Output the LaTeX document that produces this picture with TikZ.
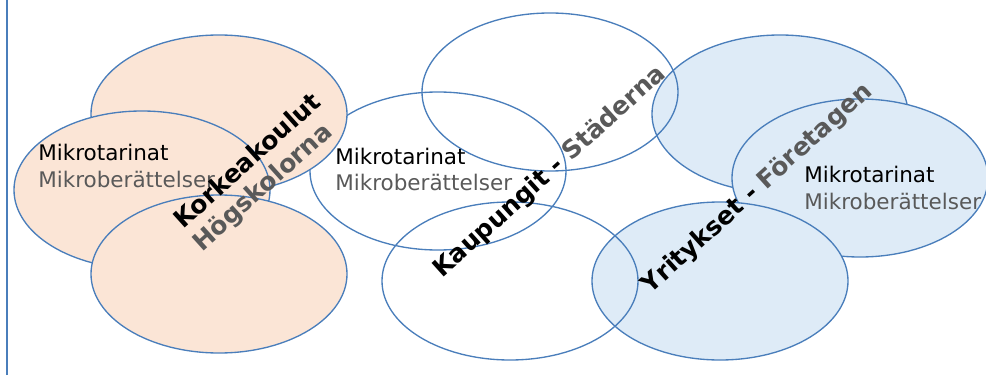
\documentclass[tikz,border=0pt]{standalone}
\usepackage{fontspec}
\setmainfont{DejaVu Sans}
\usepackage{tikz}
\usetikzlibrary{calc}
\definecolor{rimblue}{RGB}{74,126,187}
\definecolor{peach}{RGB}{251,229,214}
\definecolor{paleblue}{RGB}{222,235,247}
\definecolor{textgray}{RGB}{89,89,89}

\begin{document}
\begin{tikzpicture}
\useasboundingbox (0,0) rectangle (24.65,9.375);
\coordinate (uniTop) at (5.475,6.525);
\coordinate (uniLeft) at (3.55,4.625);
\coordinate (uniBot) at (5.475,2.525);
\coordinate (cityTop) at (13.75,7.075);
\coordinate (cityMid) at (10.95,5.1);
\coordinate (cityBot) at (12.75,2.35);
\coordinate (firmTop) at (19.5,6.525);
\coordinate (firmRight) at (21.5,4.925);
\coordinate (firmBot) at (18.0,2.35);
\draw[rimblue,line width=1.7pt] (0.175,0) -- (0.175,9.375);
\draw[rimblue,fill=paleblue,line width=0.95pt] (firmTop) ellipse (3.2 and 1.975);
\draw[rimblue,fill=paleblue,line width=0.95pt] (firmRight) ellipse (3.2 and 1.975);
\draw[rimblue,fill=paleblue,line width=0.95pt] (firmBot) ellipse (3.2 and 1.975);
\draw[rimblue,line width=0.95pt] (cityTop) ellipse (3.2 and 1.975);
\draw[rimblue,line width=0.95pt] (cityMid) ellipse (3.2 and 1.975);
\draw[rimblue,line width=0.95pt] (cityBot) ellipse (3.2 and 1.975);
\draw[rimblue,fill=peach,line width=0.95pt] (uniTop) ellipse (3.2 and 1.975);
\draw[rimblue,fill=peach,line width=0.95pt] (uniLeft) ellipse (3.2 and 1.975);
\draw[rimblue,fill=peach,line width=0.95pt] (uniBot) ellipse (3.2 and 1.975);
\node[anchor=base west,inner sep=0,font=\fontsize{15.3}{18}\selectfont] (uniFi) at (0.95,5.35) {Mikrotarinat};
\node[anchor=base west,inner sep=0,font=\fontsize{15.3}{18}\selectfont,textgray] (uniSv) at (0.95,4.7) {Mikroberättelser};
\node[anchor=base west,inner sep=0,font=\fontsize{15.3}{18}\selectfont] (cityFi) at (8.375,5.275) {Mikrotarinat};
\node[anchor=base west,inner sep=0,font=\fontsize{15.3}{18}\selectfont,textgray] (citySv) at (8.375,4.625) {Mikroberättelser};
\node[anchor=base west,inner sep=0,font=\fontsize{15.3}{18}\selectfont] (firmFi) at (20.1,4.8) {Mikrotarinat};
\node[anchor=base west,inner sep=0,font=\fontsize{15.3}{18}\selectfont,textgray] (firmSv) at (20.1,4.15) {Mikroberättelser};
\node[anchor=base,inner sep=0,rotate=42,font=\fontsize{17.8}{21}\selectfont\bfseries] (uniName) at (6.325,5.2) {Korkeakoulut};
\node[anchor=base,inner sep=0,rotate=42,font=\fontsize{17.8}{21}\selectfont\bfseries,textgray] (uniNameSv) at (6.7,4.55) {Högskolorna};
\node[anchor=base,inner sep=0,rotate=42,font=\fontsize{17.8}{21}\selectfont\bfseries] (cityName) at (13.875,4.95) {Kaupungit - \textcolor{textgray}{Städerna}};
\node[anchor=base,inner sep=0,rotate=42,font=\fontsize{17.8}{21}\selectfont\bfseries] (firmName) at (19.05,4.525) {Yritykset - \textcolor{textgray}{Företagen}};
\end{tikzpicture}
\end{document}
